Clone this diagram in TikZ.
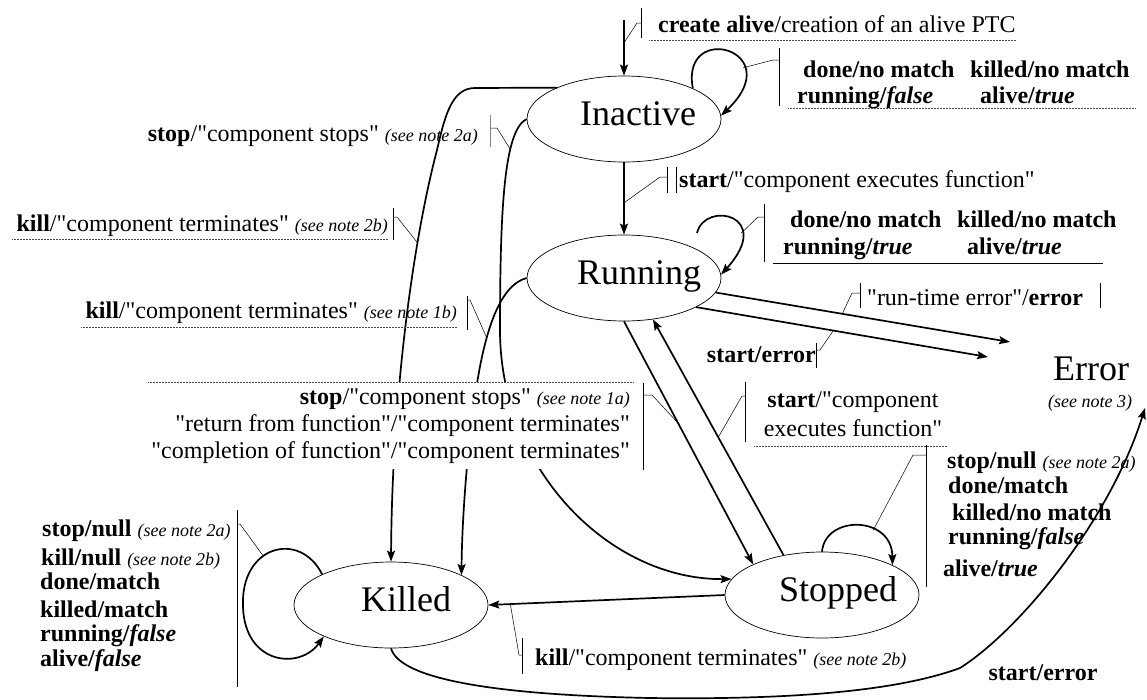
\documentclass[tikz,border=0pt]{standalone}
\usepackage{fontspec}
\setmainfont{Liberation Serif}[Ligatures=TeXOff]
\usetikzlibrary{arrows.meta,calc,shapes.geometric}
\newcommand\seenote[1]{{\fontsize{18}{20}\selectfont\mdseries\itshape(see note #1)}}
\begin{document}
\begin{tikzpicture}[x=1pt,y=-1pt,
 state/.style={draw,ellipse,line width=0.7pt,minimum width=194pt,minimum height=86pt,inner sep=0pt},
 sname/.style={font=\fontsize{36}{40}\selectfont,inner sep=0pt,anchor=base},
 lab/.style={font=\fontsize{24}{27}\selectfont,inner sep=0pt,anchor=base west},
 blab/.style={font=\fontsize{24}{27}\selectfont\bfseries,inner sep=0pt,anchor=base west},
 tr/.style={line width=1.7pt,-{Stealth[length=11pt,width=8pt,inset=2pt]}},
 co/.style={line width=0.5pt},
 bar/.style={line width=0.6pt},
 ul/.style={line width=0.5pt,densely dotted,black!70},
]
\useasboundingbox (0,0) rectangle (1147,699);
% states
\node[state] (Inactive) at (624,119) {};
\node[sname] (tInactive) at (638,125) {Inactive};
\node[state] (Running) at (624,278) {};
\node[sname] (tRunning) at (639,284) {Running};
\node[state] (Killed) at (391,605) {};
\node[sname] (tKilled) at (406,611) {Killed};
\node[state] (Stopped) at (822,595) {};
\node[sname] (tStopped) at (838,601) {Stopped};
\node[sname] (Error) at (1091,380) {Error};
\node[font=\fontsize{18}{20}\selectfont\itshape,inner sep=0pt,anchor=base] (note3) at (1090,407) {(see note 3)};
% free ends
\coordinate (init) at (624,20);
\coordinate (errA) at (1010,342);
\coordinate (errB) at (988,357);
\coordinate (errC) at (1145,408);
\coordinate (rloop) at ($(Running)+(73,-45)$);
% transitions
\draw[tr] (init) -- (Inactive.north) coordinate[pos=.41] (cInit);
\draw[tr] (Inactive.24) .. controls (680,20) and (790,50) .. (Inactive.2) coordinate[pos=.7] (cIloop);
\draw[tr] (Inactive.south) -- (Running.north) coordinate[pos=.56] (cStart);
\draw[tr] (rloop) .. controls (705,200) and (775,215) .. (Running.2) coordinate[pos=.7] (cRloop);
\draw[tr] (Running.351) -- (errA) coordinate[pos=.43] (cRte);
\draw[tr] (Running.338) -- (errB) coordinate[pos=.47] (cSerr);
\draw[tr] (Running.south) -- (Stopped.156) coordinate[pos=.418] (cStop1a);
\draw[tr] (Stopped.134) -- (Running.305) coordinate[pos=.5] (cRestart);
\draw[tr] (Stopped.90) .. controls (825,515) and (892,515) .. (Stopped.23) coordinate[pos=.65] (cSloop);
\draw[tr] (Stopped.west) -- (Killed.east) coordinate[pos=.907] (cSkill);
\draw[tr] (Killed.156) .. controls (300,530) and (240,545) .. (243,607) coordinate[pos=.6] (cKloop) .. controls (245,665) and (300,670) .. (Killed.205);
\draw[tr] (Inactive.155) -- (475,88) .. controls (452,88) and (445,115) .. (437,150) .. controls (412,245) and (392,400) .. (Killed.north) coordinate[pos=.28] (cKill2b);
\draw[tr] (Inactive.west) .. controls (505,130) and (500,200) .. (500,330) coordinate[pos=.33] (cStop2a) .. controls (500,470) and (610,580) .. (Stopped.170);
\draw[tr] (Running.west) .. controls (500,285) and (485,330) .. (476,390) coordinate[pos=.68] (cKill1b) .. controls (467,450) and (462,520) .. (Killed.23);
\draw[tr] (Killed.south) .. controls (400,680) and (500,695) .. (650,698) .. controls (800,700) and (900,690) .. (960,668) .. controls (1020,630) and (1110,520) .. (errC);
% create alive
\node[lab] (lCreate) at (658,32) {\textbf{create alive}/creation of an alive PTC};
\draw[co] (cInit) -- (637,23) -- (641,23);
\draw[bar] (641,8) -- (641,38);
\draw[ul] (649,40) -- ($(lCreate.base east)+(0,8)$);
% Inactive loop labels
\node[blab] (lI1) at (803,77) {done/no match};
\node[blab] (lI2) at (970,77) {killed/no match};
\node[blab] (lI3) at (797,103) {running/\textit{false}};
\node[blab] (lI4) at (980,103) {alive/\textit{true}};
\draw[co] (cIloop) -- (773,60) -- (779,60);
\draw[bar] (779,48) -- (779,106);
\draw[ul] (788,108) -- (1135,108);
% start
\node[lab] (lStart) at (679,187) {\textbf{start}/"component executes function"};
\draw[co] (cStart) -- (660,177) -- (667,177);
\draw[bar] (667,167) -- (667,193);
\draw[bar] (676,167) -- (676,193);
% Running loop labels
\node[blab] (lR1) at (790,227) {done/no match};
\node[blab] (lR2) at (957,227) {killed/no match};
\node[blab] (lR3) at (783,254) {running/\textit{true}};
\node[blab] (lR4) at (967,254) {alive/\textit{true}};
\draw[co] (cRloop) -- (758,217) -- (764,217);
\draw[bar] (764,204) -- (764,262);
\draw[line width=0.6pt] (773,263) -- (1103,263);
% run-time error
\node[lab] (lRte) at (867,305) {"run-time error"/\textbf{error}};
\draw[co] (cRte) -- (852,293) -- (860,293);
\draw[bar] (860,283) -- (860,308);
\draw[bar] (1100,283) -- (1100,308);
% start/error (Running)
\node[blab,anchor=base east] (lSerr) at (816,362) {start/error};
\draw[co] (cSerr) -- (820,350) -- (816,350);
\draw[bar] (816,343) -- (816,368);
% start / component executes function
\node[font=\fontsize{24}{29}\selectfont,align=center,inner sep=0pt,anchor=base] (lRestart) at (853,436) {\textbf{start}/"component\\executes function"};
\draw[co] (cRestart) -- (742,396) -- (745,396);
\draw[bar] (745,382) -- (745,442);
\draw[ul] (754,446) -- (947,446);
% Stopped loop labels
\node[blab] (lS1) at (947,468) {stop/null \seenote{2a}};
\node[blab] (lS2) at (948,493) {done/match};
\node[blab] (lS3) at (952,520) {killed/no match};
\node[blab] (lS4) at (948,544) {running/\textit{false}};
\node[blab] (lS5) at (943,576) {alive/\textit{true}};
\draw[co] (cSloop) -- (913,455) -- (926,455);
\draw[bar] (926,445) -- (926,587);
% kill (Stopped -> Killed)
\node[lab] (lSkill) at (535,665) {\textbf{kill}/"component terminates" \seenote{2b}};
\draw[co] (cSkill) -- (519,655) -- (522,655);
\draw[bar] (522,638) -- (522,674);
% Killed loop labels
\node[blab] (lK1) at (42,536) {stop/null \seenote{2a}};
\node[blab] (lK2) at (41,565) {kill/null \seenote{2b}};
\node[blab] (lK3) at (40,589) {done/match};
\node[blab] (lK4) at (40,617) {killed/match};
\node[blab] (lK5) at (40,641) {running/\textit{false}};
\node[blab] (lK6) at (40,666) {alive/\textit{false}};
\draw[co] (cKloop) -- (240,524) -- (237,524);
\draw[bar] (237,510) -- (237,687);
% stop 2a (Inactive -> Stopped)
\node[lab,anchor=base east] (lStop2a) at (478,141) {\textbf{stop}/"component stops" \seenote{2a}};
\draw[co] (cStop2a) -- (497,128) -- (490,128);
\draw[bar,gray] (490,115) -- (490,147);
% kill 2b (Inactive -> Killed)
\node[lab,anchor=base east] (lKill2b) at (388,231) {\textbf{kill}/"component terminates" \seenote{2b}};
\draw[co] (cKill2b) -- (397,217) -- (393,217);
\draw[bar] (393,208) -- (393,240);
\draw[ul] ($(lKill2b.base west)+(-4,8)$) -- ($(lKill2b.base east)+(0,8)$);
% kill 1b (Running -> Killed)
\node[lab,anchor=base east] (lKill1b) at (457,318) {\textbf{kill}/"component terminates" \seenote{1b}};
\draw[co] (cKill1b) -- (470,300) -- (467,300);
\draw[bar] (467,296) -- (467,330);
\draw[ul] ($(lKill1b.base west)+(-4,9)$) -- ($(lKill1b.base east)+(0,9)$);
% stop 1a (Running -> Stopped)
\node[font=\fontsize{24}{27}\selectfont,align=right,fill=white,inner xsep=3pt,inner ysep=6pt,anchor=north east] (lStop1a) at (633,382) {\textbf{stop}/"component stops" \seenote{1a}\\"return from function"/"component terminates"\\"completion of function"/"component terminates"};
\draw[ul] (lStop1a.north west) -- (lStop1a.north east);
\draw[co] (cStop1a) -- (652,395) -- (643,395);
\draw[bar] (643,383) -- (643,470);
% start/error (Killed -> Error)
\node[blab,anchor=base] (lKerr) at (1043,680) {start/error};
\end{tikzpicture}
\end{document}
